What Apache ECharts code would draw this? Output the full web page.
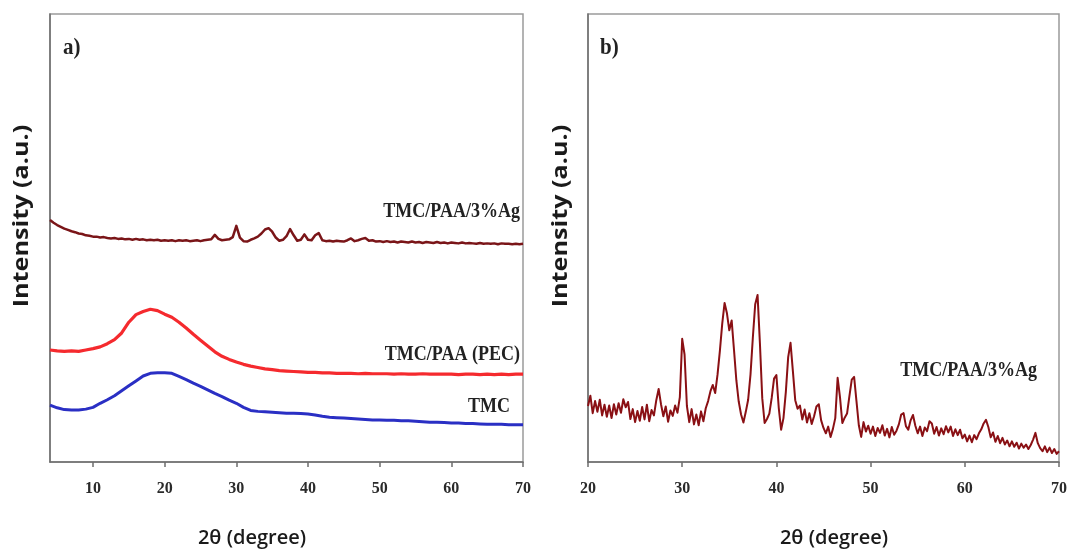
<!DOCTYPE html>
<html>
<head>
<meta charset="utf-8">
<script src="https://cdn.jsdelivr.net/npm/echarts@6/dist/echarts.min.js"></script>
<style>
  html, body { margin: 0; padding: 0; background: #fff; }
  #chart { width: 1070px; height: 549px; }
</style>
</head>
<body>
<div id="chart"></div>
<script>
// ---- XRD patterns, intensity in arbitrary units ----

// Panel a: TMC/PAA/3%Ag, sampled every 0.5 deg from 4 to 70
const agStart = 4, agStep = 0.5;
const agValues = [
  54.0, 53.4, 52.9, 52.5, 52.1, 51.8, 51.5, 51.3, 51.0, 50.9,   // 4 - 8.5
  50.6, 50.5, 50.3, 50.3, 50.1, 50.2, 50.0, 49.9, 50.0, 49.8,   // 9 - 13.5
  49.9, 49.7, 49.8, 49.6, 49.8, 49.6, 49.7, 49.5, 49.6, 49.5,   // 14 - 18.5
  49.6, 49.4, 49.5, 49.4, 49.5, 49.3, 49.5, 49.4, 49.5, 49.3,   // 19 - 23.5
  49.4, 49.5, 49.3, 49.5, 49.6, 49.7, 50.7, 49.8, 49.5, 49.6,   // 24 - 28.5
  49.7, 50.2, 52.7, 50.1, 49.3, 49.2, 49.6, 49.9, 50.3, 51.0,   // 29 - 33.5
  51.9, 52.2, 51.4, 50.1, 49.4, 49.6, 50.4, 52.0, 50.6, 49.4,   // 34 - 38.5
  49.6, 50.8, 49.6, 49.5, 50.6, 51.1, 49.5, 49.3, 49.4, 49.2,   // 39 - 43.5
  49.4, 49.3, 49.2, 49.5, 49.9, 49.3, 49.5, 49.8, 50.0, 49.4,   // 44 - 48.5
  49.5, 49.2, 49.3, 49.1, 49.3, 49.1, 49.2, 49.0, 49.2, 49.1,   // 49 - 53.5
  49.0, 49.2, 49.0, 49.1, 48.9, 49.1, 49.0, 48.9, 49.1, 48.9,   // 54 - 58.5
  49.0, 48.8, 49.0, 48.9, 48.8, 49.0, 48.8, 48.9, 48.8, 48.7,   // 59 - 63.5
  48.9, 48.7, 48.8, 48.7, 48.8, 48.6, 48.8, 48.7, 48.7, 48.6,   // 64 - 68.5
  48.7, 48.6, 48.7                                              // 69 - 70
];

// Panel a: TMC/PAA (PEC) and TMC, sampled every 1 deg from 4 to 70
const abStart = 4, abStep = 1;
const pecValues = [
  25.0, 24.8, 24.7, 24.8, 24.7, 25.0, 25.3, 25.7, 26.4, 27.3,   // 4 - 13
  28.8, 31.2, 32.9, 33.6, 34.1, 33.8, 33.0, 32.3, 31.2, 29.9,   // 14 - 23
  28.5, 27.2, 25.9, 24.6, 23.6, 22.9, 22.3, 21.8, 21.4, 21.1,   // 24 - 33
  20.8, 20.6, 20.4, 20.3, 20.2, 20.1, 20.0, 20.0, 19.9, 19.9,   // 34 - 43
  19.8, 19.8, 19.8, 19.7, 19.8, 19.7, 19.7, 19.7, 19.6, 19.7,   // 44 - 53
  19.6, 19.6, 19.7, 19.6, 19.6, 19.6, 19.6, 19.5, 19.6, 19.6,   // 54 - 63
  19.5, 19.6, 19.5, 19.6, 19.5, 19.6, 19.6                      // 64 - 70
];
const tmcValues = [
  12.7, 12.1, 11.7, 11.6, 11.6, 11.8, 12.2, 13.1, 13.9, 14.8,   // 4 - 13
  15.9, 17.0, 18.1, 19.2, 19.8, 19.9, 19.9, 19.8, 19.1, 18.4,   // 14 - 23
  17.6, 16.9, 16.1, 15.3, 14.6, 13.8, 13.1, 12.2, 11.5, 11.3,   // 24 - 33
  11.2, 11.1, 11.0, 10.9, 10.9, 10.8, 10.7, 10.5, 10.2, 10.0,   // 34 - 43
  9.9, 9.8, 9.7, 9.6, 9.5, 9.4, 9.4, 9.3, 9.3, 9.2,             // 44 - 53
  9.2, 9.1, 9.0, 8.9, 8.9, 8.8, 8.7, 8.7, 8.6, 8.6,             // 54 - 63
  8.5, 8.4, 8.4, 8.4, 8.3, 8.3, 8.3                             // 64 - 70
];

// Panel b: TMC/PAA/3%Ag, sampled every 0.25 deg from 20 to 70
const bStart = 20, bStep = 0.25;
const bValues = [
  12.5, 14.8, 10.9, 13.6, 11.2, 13.9, 10.4, 12.8,   // 20 - 21.75
  10.1, 12.6, 9.8, 12.9, 10.6, 13.1, 11.0, 14.0,    // 22 - 23.75
  12.2, 13.4, 9.6, 11.8, 8.9, 11.4, 9.2, 12.3,      // 24 - 25.75
  9.5, 12.8, 9.1, 11.6, 10.4, 13.8, 16.3, 12.9,     // 26 - 27.75
  10.2, 12.4, 9.0, 11.5, 10.3, 12.6, 11.0, 14.5,    // 28 - 29.75
  27.5, 24.0, 12.5, 8.9, 11.8, 8.4, 10.6, 8.2,      // 30 - 31.75
  11.3, 9.1, 12.0, 13.6, 15.8, 17.2, 15.4, 19.5,    // 32 - 33.75
  24.8, 30.9, 35.5, 33.2, 29.4, 31.6, 25.0, 18.2,   // 34 - 35.75
  13.5, 10.6, 8.8, 11.2, 13.9, 19.5, 27.8, 35.2,    // 36 - 37.75
  37.3, 26.5, 14.2, 8.7, 9.6, 10.8, 14.3, 18.6,     // 38 - 39.75
  19.4, 12.1, 7.2, 9.8, 15.6, 23.4, 26.6, 20.3,     // 40 - 41.75
  13.8, 11.9, 12.6, 9.5, 11.7, 8.8, 10.9, 8.5,      // 42 - 43.75
  10.2, 12.4, 12.9, 9.3, 7.6, 6.4, 7.9, 5.6,        // 44 - 45.75
  7.4, 9.8, 18.8, 14.5, 8.7, 9.9, 10.8, 14.7,       // 46 - 47.75
  18.4, 19.0, 13.6, 8.2, 5.6, 8.9, 6.8, 8.1,        // 48 - 49.75
  6.3, 7.9, 5.8, 7.6, 6.5, 8.2, 5.9, 7.4,           // 50 - 51.75
  5.5, 7.8, 6.1, 7.0, 8.4, 10.6, 10.9, 8.0,         // 52 - 53.75
  7.2, 9.3, 10.5, 8.1, 6.4, 7.9, 5.8, 7.7,          // 54 - 55.75
  6.9, 9.1, 8.6, 6.3, 7.8, 5.9, 7.5, 6.2,           // 56 - 57.75
  8.0, 6.6, 7.9, 5.8, 7.3, 6.0, 7.2, 5.3,           // 58 - 59.75
  6.1, 4.6, 5.9, 4.4, 6.0, 5.1, 6.4, 7.3,           // 60 - 61.75
  8.6, 9.4, 7.8, 5.5, 6.6, 4.5, 5.8, 4.2,           // 62 - 63.75
  5.4, 3.9, 4.8, 3.5, 4.6, 3.4, 4.3, 3.0,           // 64 - 65.75
  4.1, 3.2, 3.9, 2.9, 3.8, 5.0, 6.5, 4.2,           // 66 - 67.75
  3.1, 2.4, 3.5, 2.2, 3.2, 2.0, 2.9, 1.8,           // 68 - 69.75
  2.4                                               // 70
];

// Tick labels on the 2θ axes
const aTicks = [10, 20, 30, 40, 50, 60, 70];
const bTicks = [20, 30, 40, 50, 60, 70];

// Pair each intensity with its 2θ position on the sampling grid
function toPoints(start, step, values) {
  return values.map((v, i) => [start + i * step, v]);
}

function xAxisFor(gridIndex, min, ticks) {
  return {
    type: 'value', gridIndex, min, max: 70,
    axisLine: { show: true, lineStyle: { color: '#6e6e6e', width: 1.5 } },
    axisTick: { show: true, length: 5, customValues: ticks, lineStyle: { color: '#6e6e6e', width: 1.5 } },
    axisLabel: { customValues: ticks, margin: 19, fontSize: 16, fontFamily: 'Liberation Serif', fontWeight: 'bold', color: '#2a2a2a' },
    splitLine: { show: false }
  };
}
function yAxisFor(gridIndex) {
  return {
    type: 'value', gridIndex, min: 0, max: 100,
    axisLine: { show: true, lineStyle: { color: '#6e6e6e', width: 1.5 } },
    axisTick: { show: false }, axisLabel: { show: false }, splitLine: { show: false }
  };
}
function trace(name, xi, points, color, width) {
  return {
    name, type: 'line', xAxisIndex: xi, yAxisIndex: xi, data: points,
    showSymbol: false, symbol: 'none', animation: false,
    lineStyle: { color, width, join: 'round' }
  };
}
// Bold serif annotation, drawn slightly tall like the figure lettering
function serifLabel(text, x, y, size, align) {
  return {
    type: 'text', x, y, scaleY: 1.12,
    style: { text, align: align || 'right', verticalAlign: 'middle', font: 'bold ' + size + 'px "Liberation Serif"', fill: '#222' }
  };
}
function yTitle(x) {
  return {
    type: 'text', x, y: 216, rotation: Math.PI / 2, scaleX: 1.2,
    style: { text: 'Intensity (a.u.)', align: 'center', verticalAlign: 'middle', font: 'bold 21px "Open Sans"', fill: '#1a1a1a' }
  };
}
function xTitle(x) {
  return {
    type: 'text', x, y: 538,
    style: { text: '2θ (degree)', align: 'center', verticalAlign: 'middle', font: '600 20px "Open Sans"', fill: '#1a1a1a' }
  };
}

const chart = echarts.init(document.getElementById('chart'), null, { renderer: 'canvas' });
chart.setOption({
  backgroundColor: '#ffffff',
  animation: false,
  grid: [
    { left: 50, right: 547, top: 14, bottom: 87, show: true, borderColor: '#9a9a9a', borderWidth: 1.5 },
    { left: 588, right: 10, top: 14, bottom: 87, show: true, borderColor: '#9a9a9a', borderWidth: 1.5 }
  ],
  xAxis: [xAxisFor(0, 4, aTicks), xAxisFor(1, 20, bTicks)],
  yAxis: [yAxisFor(0), yAxisFor(1)],
  series: [
    trace('TMC/PAA/3%Ag', 0, toPoints(agStart, agStep, agValues), '#7a1518', 2.5),
    trace('TMC/PAA (PEC)', 0, toPoints(abStart, abStep, pecValues), '#f52a2e', 3.2),
    trace('TMC', 0, toPoints(abStart, abStep, tmcValues), '#2a2fc4', 3),
    trace('TMC/PAA/3%Ag', 1, toPoints(bStart, bStep, bValues), '#8a1014', 2)
  ],
  graphic: [
    serifLabel('a)', 63, 48, 21, 'left'),
    serifLabel('b)', 600, 48, 21, 'left'),
    serifLabel('TMC/PAA/3%Ag', 520, 212, 18),
    serifLabel('TMC/PAA (PEC)', 520, 355, 18),
    serifLabel('TMC', 510, 407, 18),
    serifLabel('TMC/PAA/3%Ag', 1037, 371, 18),
    yTitle(22),
    yTitle(561),
    xTitle(252),
    xTitle(834)
  ]
});
</script>
</body>
</html>
